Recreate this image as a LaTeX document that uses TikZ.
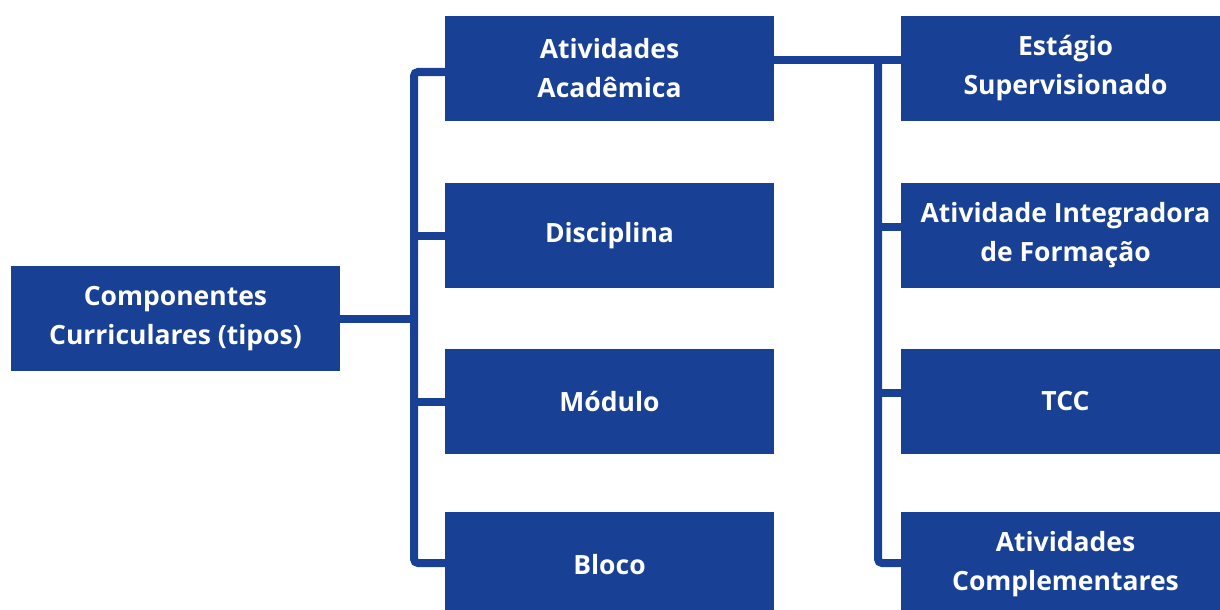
\documentclass[tikz,border=0pt]{standalone}
\usepackage{fontspec}
\setmainfont{Open Sans}
\usetikzlibrary{calc}

\definecolor{boxblue}{RGB}{24,64,148}

\tikzset{
    compbox/.style={fill=boxblue, text=white, minimum width=329pt, minimum height=105pt,
        inner sep=0pt, align=center, font=\bfseries\fontsize{26.5}{39}\selectfont},
    link/.style={draw=boxblue, line width=8pt, rounded corners=4pt}
}

\begin{document}
\begin{tikzpicture}[x=1pt, y=-1pt]

    % --- 1. Frame ---
    \useasboundingbox (0,0) rectangle (1220,610);

    % --- 2. Bus positions ---
    \coordinate (lbar) at (414,0);   % Left bus
    \coordinate (rbar) at (878,0);   % Right bus

    % --- 3. Boxes ---
    % Root on the left
    \node[compbox] (root) at (175.5,318.5) {Componentes\\Curriculares (tipos)};

    % Middle column
    \node[compbox] (acad)  at (609.5,68.5)  {Atividades\\Acadêmica};
    \node[compbox] (disc)  at (609.5,235.5) {Disciplina};
    \node[compbox] (modu)  at (609.5,401.5) {Módulo};
    \node[compbox] (bloco) at (609.5,564.5) {Bloco};

    % Right column
    \node[compbox] (estag) at (1065.5,68.5)  {Estágio\\Supervisionado};
    \node[compbox] (integ) at (1065.5,235.5) {Atividade Integradora\\de Formação};
    \node[compbox] (tcc)   at (1065.5,401.5) {TCC};
    \node[compbox] (compl) at (1065.5,564.5) {Atividades\\Complementares};

    % --- 4. Left connectors ---
    \draw[link] (root.east) -- (root.east -| lbar);
    \draw[link] ([yshift=-3.5pt]acad.west) -- ([yshift=-3.5pt]acad.west -| lbar)
        -- ([yshift=1.5pt]bloco.west -| lbar) -- ([yshift=1.5pt]bloco.west);
    \draw[link] (disc.west -| lbar) -- (disc.west);
    \draw[link] (modu.west -| lbar) -- (modu.west);

    % --- 5. Right connectors ---
    \draw[link] ([yshift=8.5pt]acad.east) -- ([yshift=8.5pt]estag.west);
    \draw[link] ([yshift=8.5pt]acad.east -| rbar) -- ([yshift=1.5pt]compl.west -| rbar)
        -- ([yshift=1.5pt]compl.west);
    \draw[link] ([yshift=8.5pt]integ.west -| rbar) -- ([yshift=8.5pt]integ.west);
    \draw[link] ([yshift=8.5pt]tcc.west -| rbar) -- ([yshift=8.5pt]tcc.west);

\end{tikzpicture}
\end{document}
